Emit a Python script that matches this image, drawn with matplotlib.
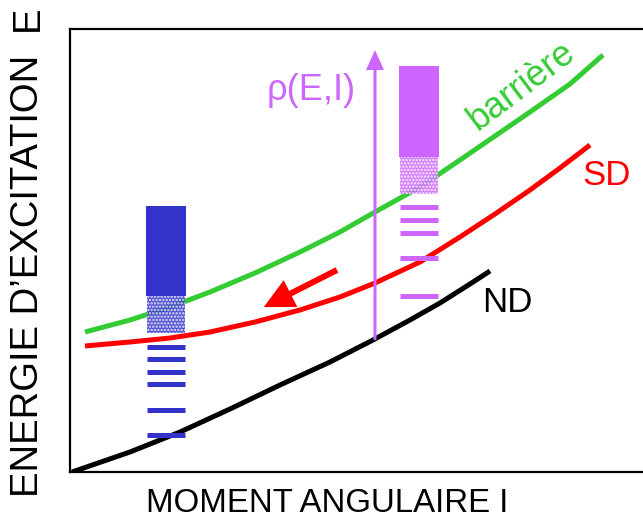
import numpy as np
import matplotlib
matplotlib.use("Agg")
from matplotlib import pyplot as plt
from matplotlib.patches import Rectangle, FancyArrow

plt.rcParams['font.family'] = ['Liberation Sans', 'DejaVu Sans']
plt.rcParams['hatch.linewidth'] = 1.2

# courbes (I = moment angulaire, E = energie), unites arbitraires
nd_I = [2, 60, 110, 160, 210, 260, 303, 340, 370, 400, 420]
nd_E = [0, 20, 40, 63, 87, 110, 132, 152, 169, 188, 201]
sd_I = [15, 60, 100, 140, 185, 230, 270, 305, 350, 390, 425, 460, 490, 520]
sd_E = [126, 130, 134, 140, 150, 162, 175, 189, 210, 235, 258, 282, 304, 327]
ba_I = [15, 60, 100, 140, 185, 230, 270, 305, 350, 390, 425, 460, 500, 533]
ba_E = [140, 152, 165, 180, 199, 220, 240, 260, 285, 312, 336, 360, 388, 417]

# niveaux: partie continue, partie pointillee, niveaux discrets
blue_I = (76, 116)
blue_solid = (176, 266)
blue_dots = (139, 176)
blue_levels = [125, 113, 100, 88, 62, 37]
purple_I = (329, 369)
purple_solid = (315, 406)
purple_dots = (278, 315)
purple_levels = [265, 252, 239, 214, 176]

BLUE = '#3333cc'
PURPLE = '#cc66ff'

fig = plt.figure(figsize=(6.43, 5.23), dpi=100)
ax = fig.add_axes([70/643, 51/523, 573/643, 443/523])
ax.set_xlim(0, 573)
ax.set_ylim(0, 443)
ax.set_xticks([])
ax.set_yticks([])
ax.spines['right'].set_visible(False)
for s in ['left', 'top', 'bottom']:
    ax.spines[s].set_linewidth(1.6)

ax.plot(nd_I, nd_E, color='black', lw=3.6, solid_capstyle='butt', zorder=3)
ax.plot(sd_I, sd_E, color='#ff0000', lw=3.6, solid_capstyle='butt', zorder=3)
ax.plot(ba_I, ba_E, color='#33cc33', lw=3.6, solid_capstyle='butt', zorder=3)

def levels(I, solid, dots, lv, col):
    w = I[1] - I[0]
    ax.add_patch(Rectangle((I[0], solid[0]), w, solid[1]-solid[0], color=col, lw=0, zorder=4))
    ax.add_patch(Rectangle((I[0]+1, dots[0]), w-2, dots[1]-dots[0], facecolor=col,
                           alpha=0.85, lw=0, hatch='.....', edgecolor='white', zorder=4))
    for e in lv:
        ax.plot([I[0]+1, I[1]-1], [e, e], color=col, lw=3.6, solid_capstyle='butt', zorder=4)

levels(blue_I, blue_solid, blue_dots, blue_levels, BLUE)
levels(purple_I, purple_solid, purple_dots, purple_levels, PURPLE)

# fleche rho(E,I)
ax.add_patch(FancyArrow(305, 132, 0, 270, width=3, head_width=18, head_length=20,
                        length_includes_head=False, color=PURPLE, lw=0, zorder=5))
ax.text(241, 382, r'ρ(E,I)', color=PURPLE, fontsize=26, ha='center', va='center')

# fleche rouge
ax.add_patch(FancyArrow(267, 202, -75*0.62, -38*0.62, width=6, head_width=30, head_length=30,
                        length_includes_head=False, color='#ff0000', lw=0, zorder=5))

ax.text(452, 386, 'barrière', color='#33cc33', fontsize=26, rotation=37,
        ha='center', va='center', rotation_mode='anchor')
ax.text(537, 297, 'SD', color='#ff0000', fontsize=25, ha='center', va='center')
ax.text(437, 170, 'ND', color='black', fontsize=25, ha='center', va='center')

fig.text(327/643, 1-503/523, 'MOMENT ANGULAIRE I', fontsize=23.8, ha='center', va='center')
fig.text(28/643, 1-276/523, "ENERGIE D’EXCITATION", fontsize=27.5, rotation=90,
         ha='center', va='center')
fig.text(28/643, 1-18/523, "E", fontsize=27.5, rotation=90, ha='center', va='center')

fig.savefig('out.png', dpi=100)
